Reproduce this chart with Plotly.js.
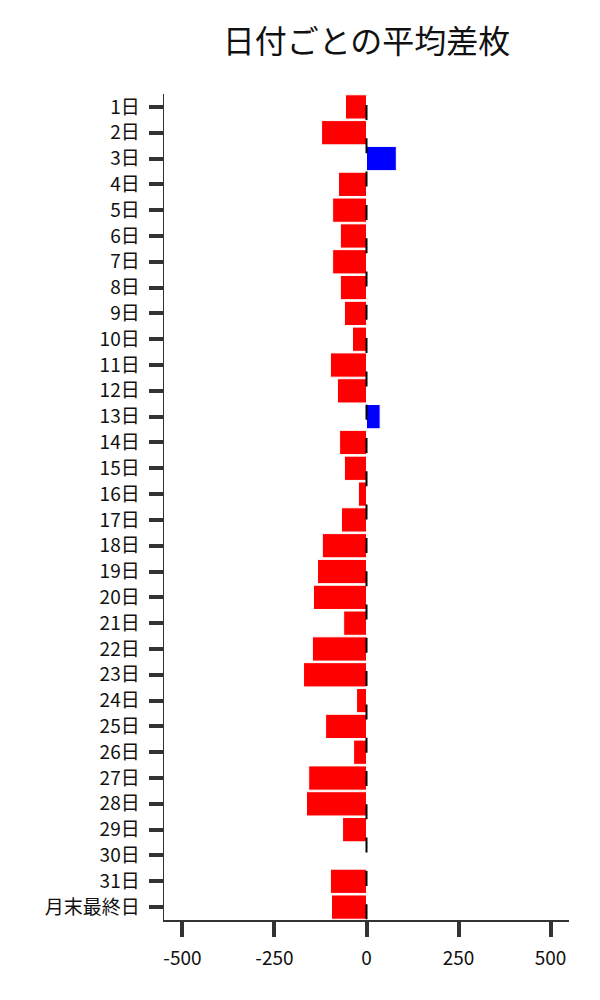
<!DOCTYPE html>
<html>
<head>
<meta charset="utf-8">
<script src="https://cdn.plot.ly/plotly-3.0.1.min.js"></script>
<style>
  body { margin: 0; background: #fff; }
  #chart { width: 600px; height: 1000px; }
</style>
</head>
<body>
<div id="chart"></div>
<script>
var days = ["1日", "2日", "3日", "4日", "5日", "6日", "7日", "8日", "9日", "10日",
  "11日", "12日", "13日", "14日", "15日", "16日", "17日", "18日", "19日", "20日",
  "21日", "22日", "23日", "24日", "25日", "26日", "27日", "28日", "29日", "30日",
  "31日", "月末最終日"];
var avgDiff = [-57, -122, 81, -76, -92, -71, -92, -71, -60, -38,
  -98, -79, 37, -73, -60, -22, -68, -120, -133, -144,
  -62, -147, -171, -27, -111, -35, -157, -163, -65, 1,
  -98, -95];
var xTicks = [-500, -250, 0, 250, 500];

var font = "'Noto Sans CJK JP', 'Noto Sans', sans-serif";

var colors = avgDiff.map(function (v) { return v < 0 ? "#ff0000" : "#0000ff"; });

var data = [{
  type: "bar",
  orientation: "h",
  x: avgDiff,
  y: days,
  marker: { color: colors, line: { color: "#ffffff", width: 1 } },
  hoverinfo: "x+y"
}];

var layout = {
  width: 600,
  height: 1000,
  margin: { l: 164, r: 31, t: 94, b: 80 },
  paper_bgcolor: "#ffffff",
  plot_bgcolor: "#ffffff",
  showlegend: false,
  bargap: 0.06,
  font: { family: font, size: 19, color: "#111111" },
  title: {
    text: "日付ごとの平均差枚",
    font: { family: font, size: 32, color: "#111111" },
    x: 0.5,
    xref: "paper",
    y: 0.958,
    yref: "container",
    yanchor: "middle"
  },
  xaxis: {
    range: [-550, 550],
    tickvals: xTicks,
    ticktext: xTicks.map(String),
    showgrid: false,
    zeroline: false,
    showline: true,
    linecolor: "#333333",
    linewidth: 1.5,
    ticks: "outside",
    ticklen: 15,
    tickwidth: 4,
    tickcolor: "#333333",
    ticklabelstandoff: 6
  },
  yaxis: {
    autorange: "reversed",
    showgrid: false,
    zeroline: false,
    showline: true,
    linecolor: "#333333",
    linewidth: 1.5,
    ticks: "outside",
    ticklen: 14,
    tickwidth: 4,
    tickcolor: "#333333",
    ticklabelstandoff: 5
  },
  // dashed zero line, drawn from the top down so the dash pattern lines up
  shapes: [{
    type: "line",
    xref: "x",
    yref: "paper",
    x0: 0, x1: 0,
    y0: 0.9867, y1: 0,
    layer: "above",
    line: { color: "#000000", width: 2, dash: "15px,18.3px" }
  }]
};

Plotly.newPlot("chart", data, layout, { displayModeBar: false, staticPlot: true });
</script>
</body>
</html>
